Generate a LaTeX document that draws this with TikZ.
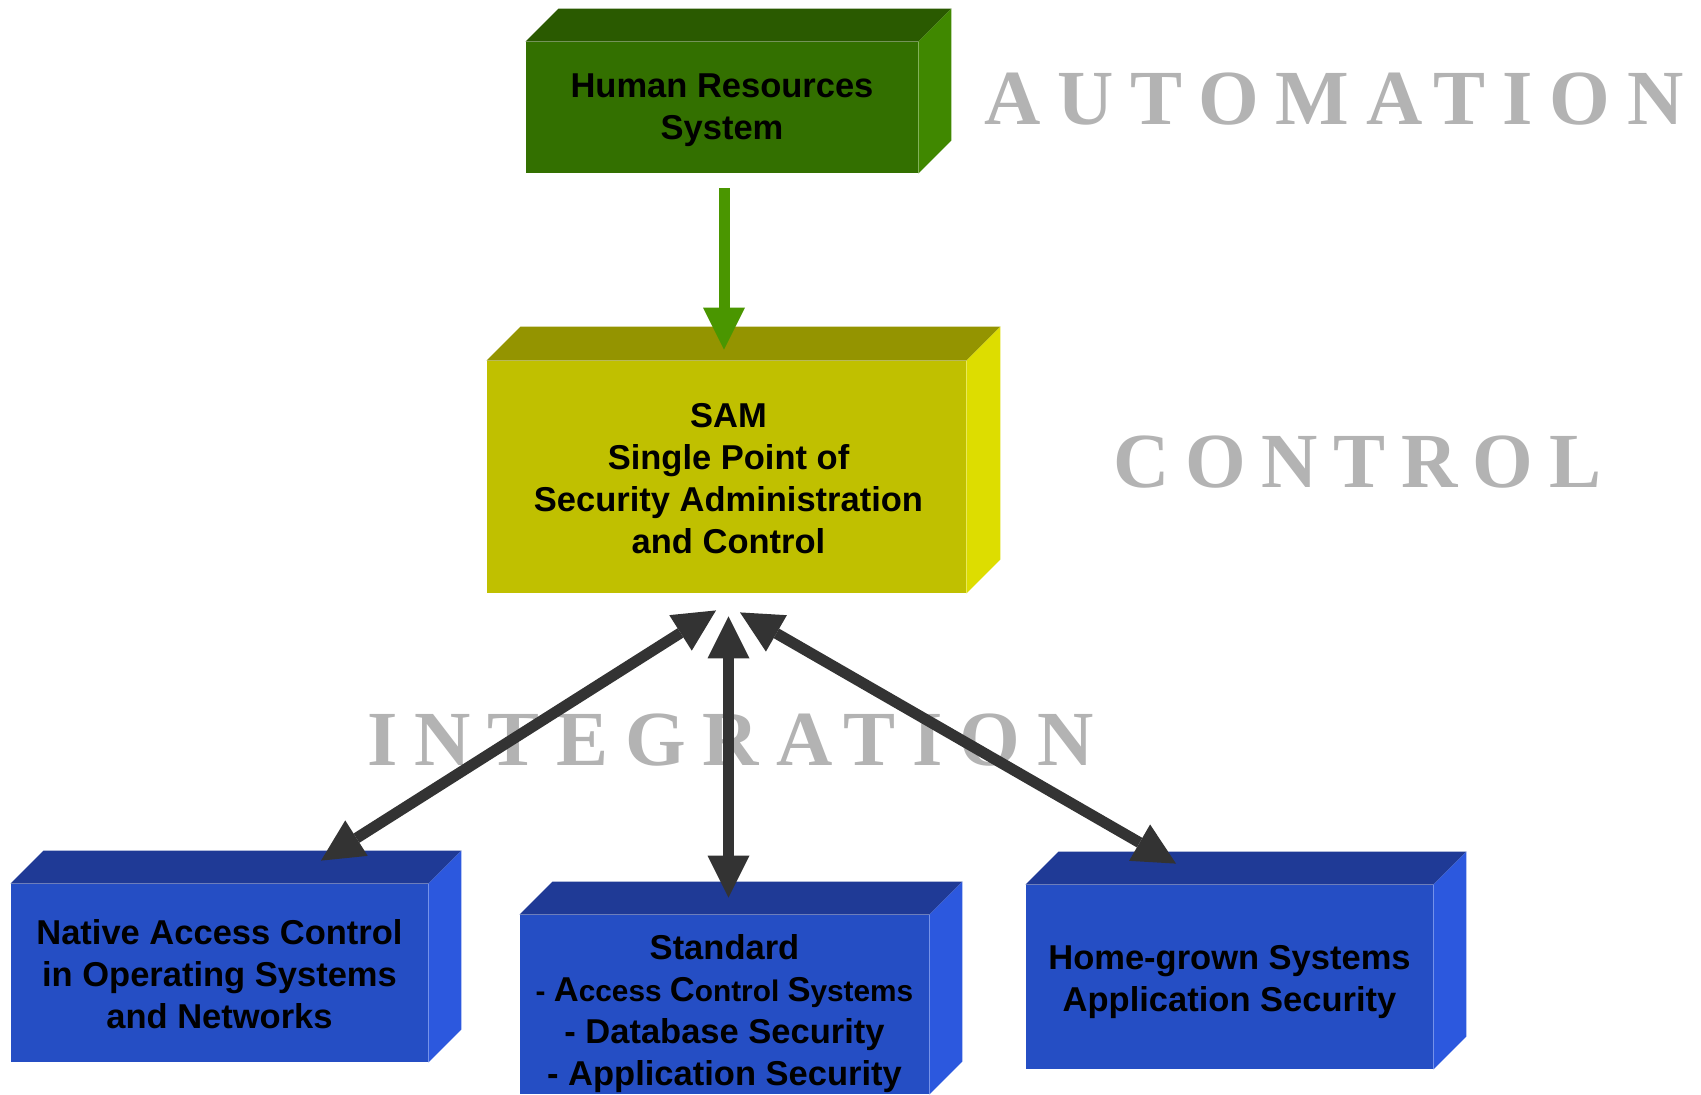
\documentclass[tikz,border=0pt]{standalone}
\usepackage{fontspec}
\usetikzlibrary{arrows.meta}

\newfontfamily\boxfont{Liberation Sans}
\newfontfamily\bannerfont[LetterSpace=20]{Liberation Serif}

\definecolor{hrfront}{HTML}{337000}
\definecolor{hrtop}{HTML}{2A5A00}
\definecolor{hrside}{HTML}{408800}
\definecolor{samfront}{HTML}{C0C000}
\definecolor{samtop}{HTML}{949400}
\definecolor{samside}{HTML}{DDDD00}
\definecolor{netfront}{HTML}{254EC4}
\definecolor{nettop}{HTML}{1F3A96}
\definecolor{netside}{HTML}{2C58DE}
\definecolor{feedgreen}{HTML}{4A9600}
\definecolor{linkgrey}{HTML}{333333}
\definecolor{bannergrey}{HTML}{B3B3B3}

\newcommand{\cubefaces}[4]{%
  \fill[#2] (#1.north west) -- ++(#4,-#4) -- ([shift={(#4,-#4)}]#1.north east) -- (#1.north east) -- cycle;
  \fill[#3] (#1.north east) -- ++(#4,-#4) -- ([shift={(#4,-#4)}]#1.south east) -- (#1.south east) -- cycle;
}
\newcommand{\upcap}[1]{{\fontsize{17.25}{21}\selectfont #1}}

\begin{document}
\begin{tikzpicture}[x=0.5pt, y=-0.5pt,
  front/.style={inner sep=0pt},
  boxtext/.style={inner sep=0pt, align=center, text=black, font=\boxfont\bfseries\fontsize{17.25}{21}\selectfont},
  banner/.style={anchor=base west, inner sep=0pt, text=bannergrey, font=\bannerfont\bfseries\fontsize{39}{39}\selectfont},
  wide/.style={font=\bannerfont\bfseries\addfontfeature{LetterSpace=21.6}\fontsize{39}{39}\selectfont},
  feed/.style={draw=feedgreen, line width=5.5pt, -{Triangle[length=21pt, width=21pt, line width=0pt]}},
  link/.style={draw=linkgrey, line width=5.5pt, {Triangle[length=21pt, width=21pt, line width=0pt]}-{Triangle[length=21pt, width=21pt, line width=0pt]}}]
\path[fill=white, use as bounding box] (0,0) rectangle (1701,1094);

\node[front, fill=hrfront, minimum width=196pt, minimum height=65.5pt,
  label={[boxtext, yshift=-1.5pt]center:Human Resources\\System}] (hr) at (722,107.5) {};
\cubefaces{hr}{hrtop}{hrside}{33}
\node[front, fill=samfront, minimum width=239.5pt, minimum height=116pt,
  label={[boxtext, yshift=-1pt, xshift=1pt]center:SAM\\Single Point of\\Security Administration\\and Control}] (sam) at (726.5,477) {};
\cubefaces{sam}{samtop}{samside}{34}
\node[front, fill=netfront, minimum width=208.5pt, minimum height=89pt,
  label={[boxtext, yshift=-0.75pt]center:Native Access Control\\in Operating Systems\\and Networks}] (native) at (219.5,973) {};
\cubefaces{native}{nettop}{netside}{33}
\node[front, fill=netfront, minimum width=204.5pt, minimum height=89.5pt,
  label={[boxtext, yshift=-4.75pt]center:Standard\\{\fontsize{14.9}{21}\selectfont - \upcap{A}ccess \upcap{C}ontrol \upcap{S}ystems}\\- Database Security\\- Application Security}] (standard) at (724.5,1004.5) {};
\cubefaces{standard}{nettop}{netside}{33}
\node[front, fill=netfront, minimum width=203.5pt, minimum height=92pt,
  label={[boxtext, yshift=-2.5pt]center:Home-grown Systems\\Application Security}] (homegrown) at (1229.5,977) {};
\cubefaces{homegrown}{nettop}{netside}{33}

\node[banner, wide] (automation) at (984,124) {AUTOMATION};
\node[banner] (control) at (1113,487) {CONTROL};
\node[banner, wide] (integration) at (367,765) {INTEGRATION};

\coordinate (hrout) at ([shift={(2,15)}]hr.south);
\coordinate (samin) at ([shift={(-2.5,-11)}]sam.north);
\coordinate (samleft) at ([shift={(-10.5,17)}]sam.south);
\coordinate (sammid) at ([shift={(2,23)}]sam.south);
\coordinate (samright) at ([shift={(13.5,19)}]sam.south);
\coordinate (nativein) at ([shift={(101.5,-23)}]native.north);
\coordinate (standardin) at ([shift={(4,-17)}]standard.north);
\coordinate (homegrownin) at ([shift={(-53.5,-21)}]homegrown.north);

\draw[feed] (hrout) -- (samin);
\draw[link] (samleft) -- (nativein);
\draw[link] (sammid) -- (standardin);
\draw[link] (samright) -- (homegrownin);
\end{tikzpicture}
\end{document}
